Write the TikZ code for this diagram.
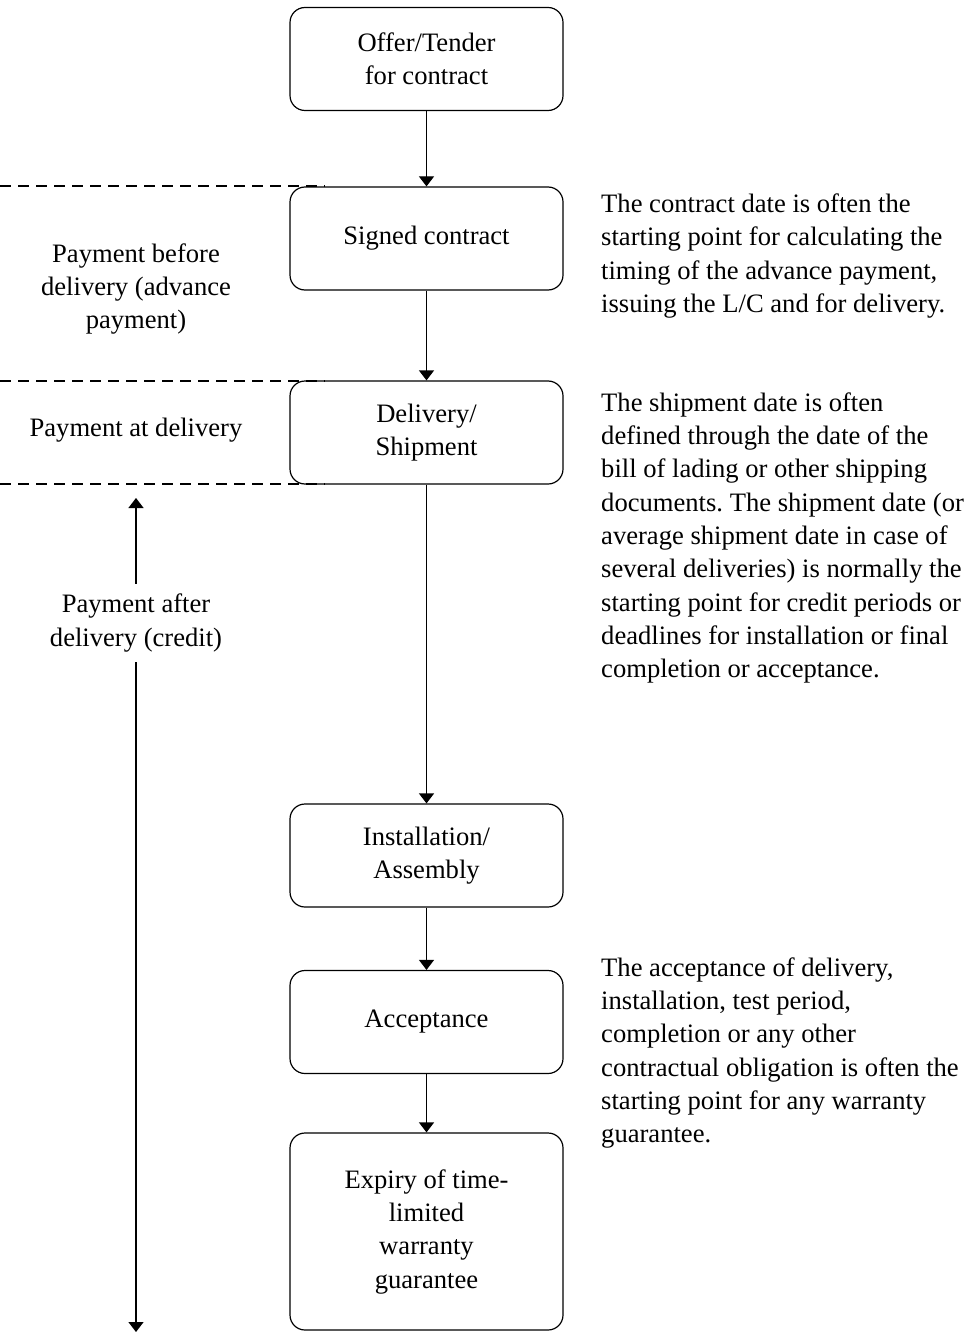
\documentclass[tikz,border=0pt]{standalone}
\usepackage{fontspec}
\setmainfont{Liberation Serif}
\usetikzlibrary{arrows.meta}
\frenchspacing
\tikzset{
  txt/.style={font=\fontsize{26.6}{33.3}\selectfont\frenchspacing, inner sep=0pt},
  stage/.style={txt, draw, line width=1.2pt, rounded corners=15pt, minimum width=273pt, align=center},
  flow/.style={line width=1.2pt, -{Triangle[length=10pt,width=15pt]}},
  phase/.style={line width=1.1pt, dash pattern=on 11pt off 7pt},
  note/.style={txt, align=left, anchor=west},
  side/.style={txt, align=center}
}
\begin{document}
\begin{tikzpicture}[x=1pt,y=-1pt]
\useasboundingbox (0,0) rectangle (971,1332);
% phase separators
\draw[phase] (0,186) -- (325,186);
\draw[phase] (0,381) -- (325,381);
\draw[phase] (0,484) -- (325,484);
% stages
\node[stage, minimum height=103pt] (b1) at (426.5,59) {Offer/Tender\\for contract};
\node[stage, minimum height=103pt] (b2) at (426.5,238.5) {Signed contract};
\node[stage, minimum height=103pt] (b3) at (426.5,432.5) {Delivery/\\Shipment};
\node[stage, minimum height=103pt] (b4) at (426.5,855.5) {Installation/\\Assembly};
\node[stage, minimum height=103pt] (b5) at (426.5,1022) {Acceptance};
\node[stage, minimum height=197pt] (b6) at (426.5,1231.5) {\raisebox{8pt}{\begin{tabular}{@{}c@{}}Expiry of time-\\limited\\warranty\\guarantee\end{tabular}}};
\draw[flow] (b1.south) -- (b2.north);
\draw[flow] (b2.south) -- (b3.north);
\draw[flow] (b3.south) -- (b4.north);
\draw[flow] (b4.south) -- (b5.north);
\draw[flow] (b5.south) -- (b6.north);
% left labels
\node[side] (pb) at (136,289) {Payment before\\delivery (advance\\payment)};
\node[side] (pd) at (136,430) {Payment at delivery};
\node[side, inner sep=10pt] (pa) at (136,623) {Payment after\\delivery (credit)};
\coordinate (atop) at (136,498);
\coordinate (abot) at (136,1332);
\draw[flow] (pa.north) -- (atop);
\draw[flow] (pa.south) -- (abot);
% notes
\node[note] (n1) at (601,256) {The contract date is often the\\starting point for calculating the\\timing of the advance payment,\\issuing the L/C and for delivery.};
\node[note] (n2) at (601,538) {The shipment date is often\\defined through the date of the\\bill of lading or other shipping\\documents. The shipment date (or\\average shipment date in case of\\several deliveries) is normally the\\starting point for credit periods or\\deadlines for installation or final\\completion or acceptance.};
\node[note] (n3) at (601,1053) {The acceptance of delivery,\\installation, test period,\\completion or any other\\contractual obligation is often the\\starting point for any warranty\\guarantee.};
\end{tikzpicture}
\end{document}
